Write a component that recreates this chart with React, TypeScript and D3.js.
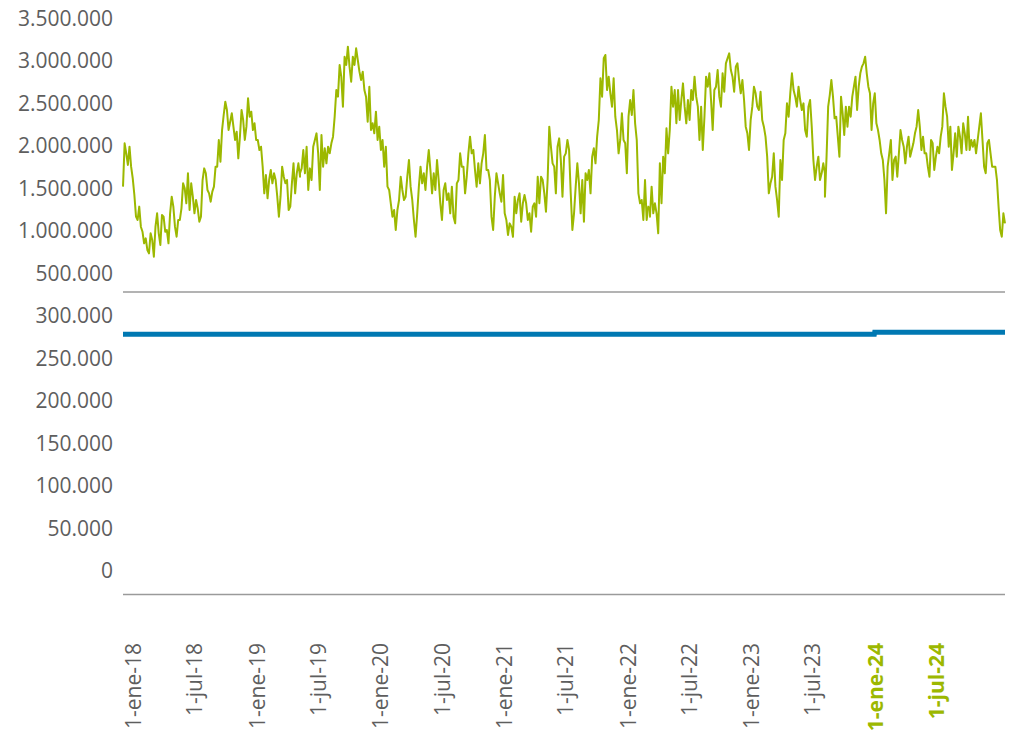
import React from "react";
import * as d3 from "d3";

// ---- Data (green series in thousands) ----
const seg1Dates = ["2017-12-02", "2019-05-09"];
const seg1 = [1510, 2020, 1902, 1765, 1980, 1745, 1608, 1412, 1157, 1118, 1275, 1039, 980, 843, 902, 765, 725, 961, 882, 686, 1039, 1196, 961, 824, 1176, 1157, 980, 1000, 843, 1196, 1392, 1275, 1039, 921, 1118, 1118, 1255, 1549, 1490, 1314, 1667, 1235, 1549, 1392, 1196, 1353, 1255, 1098, 1157, 1588, 1725, 1667, 1471, 1431, 1333, 1451, 1510, 1745, 1745, 2059, 1804, 2176, 2353, 2510, 2412, 2176, 2274, 2373, 2216, 2059, 2157, 1843, 2098, 2412, 2294, 2059, 2216, 2549, 2333, 2392, 2176, 2255, 2059, 2059, 1941, 1980, 1745, 1431, 1647, 1373, 1588, 1706, 1549, 1667, 1588, 1392, 1157, 1392, 1745, 1627, 1549, 1588, 1235, 1275, 1549, 1784, 1431, 1667, 1784, 1627];

const seg2Dates = ["2019-05-09", "2020-10-07"];
const seg2 = [1667, 1725, 1941, 1667, 1980, 1471, 1725, 1588, 1980, 2059, 2137, 1902, 1471, 2118, 1745, 1961, 1784, 1980, 1902, 2020, 2098, 2333, 2647, 2569, 2941, 2804, 2451, 3039, 2941, 3157, 2922, 2745, 3039, 2941, 3137, 3000, 2863, 2765, 2863, 2647, 2569, 2274, 2686, 2176, 2255, 2137, 2392, 2059, 2216, 1941, 2059, 1745, 1980, 1510, 1471, 1314, 1157, 1235, 1000, 1235, 1353, 1627, 1471, 1353, 1392, 1627, 1824, 1510, 1353, 1118, 921, 1196, 1510, 1745, 1549, 1667, 1471, 1745, 1941, 1706, 1431, 1667, 1471, 1824, 1588, 1314, 1118, 1471, 1549, 1353, 1431, 1196, 1510, 1157, 1078, 1549, 1588, 1902, 1745, 1745, 1431, 1627, 1902, 2098, 1902, 1941, 1706];

const seg3Dates = ["2020-10-07", "2022-03-08"];
const seg3 = [1706, 1510, 1784, 1549, 1784, 1902, 2118, 1706, 1706, 1588, 1157, 1000, 1392, 1667, 1549, 1431, 1333, 1647, 1196, 1118, 941, 1078, 1039, 921, 1392, 1196, 1353, 1431, 1098, 1314, 1412, 1314, 1118, 1196, 980, 1275, 1314, 1157, 1627, 1314, 1627, 1588, 1431, 1216, 1588, 2216, 1980, 1784, 1745, 1431, 1980, 2078, 1824, 1392, 1863, 1902, 2059, 1941, 1431, 1000, 1196, 1510, 1784, 1549, 1196, 1588, 1098, 1667, 1588, 1706, 1431, 1863, 1961, 1784, 2098, 2294, 2784, 2569, 3020, 3059, 2647, 2804, 2608, 2451, 2784, 2333, 2176, 1902, 2059, 2373, 2059, 2020, 1667, 2333, 2529, 2353, 2647, 2255, 2059, 1431, 1314, 1353, 1118, 1588, 1118, 1275, 1235];

const seg4Dates = ["2022-03-08", "2023-08-07"];
const seg4 = [1157, 1510, 1196, 1314, 1196, 961, 1784, 1314, 1863, 1667, 2196, 1902, 2176, 2686, 2451, 2647, 2255, 2647, 2294, 2529, 2725, 2451, 2255, 2529, 2294, 2647, 2529, 2804, 2569, 2451, 2059, 2451, 1941, 2333, 2804, 2686, 2843, 2529, 2176, 2647, 2686, 2882, 2569, 2451, 2843, 2627, 2961, 3020, 3078, 2882, 2804, 2627, 2922, 2961, 2765, 2608, 2765, 2529, 2216, 2137, 1941, 2294, 2451, 2686, 2608, 2451, 2412, 2627, 2294, 2216, 2098, 1863, 1431, 1549, 1627, 1902, 1510, 1353, 1157, 1824, 1588, 2059, 2137, 2490, 2333, 2608, 2843, 2647, 2569, 2451, 2686, 2529, 2412, 2490, 2176, 2098, 2451, 2529, 2216, 1824, 1588, 1745, 1863, 1588, 1667, 1784, 1667];

const seg5Dates = ["2023-08-07", "2025-01-20"];
const seg5 = [1392, 1863, 2451, 2588, 2765, 2569, 2314, 2333, 2098, 1863, 2569, 2373, 2118, 2451, 2216, 2451, 2333, 2569, 2686, 2804, 2412, 2686, 2843, 2922, 2961, 3039, 2843, 2686, 2608, 2176, 2490, 2608, 2255, 2176, 2059, 1902, 1824, 1588, 1196, 1745, 1902, 2059, 1588, 1824, 1863, 1627, 1902, 2176, 2059, 1980, 1784, 1980, 2098, 1863, 1941, 2020, 2137, 2216, 2412, 2216, 1941, 2098, 1902, 1902, 1745, 1627, 2059, 2020, 1706, 1863, 1980, 1902, 2098, 2216, 2608, 2451, 2333, 1980, 2216, 1706, 1902, 2137, 1863, 2216, 2098, 1902, 2255, 2137, 1941, 2333, 1941, 2059, 1980, 2059, 1902, 2059, 2216, 2373, 2059, 1745, 1667, 2020, 2059, 1902, 1745, 1745, 1745, 1588, 1275, 1000, 921, 1196, 1078];

// Blue series (step)
const blueDates = ["2017-12-02", "2023-12-31", "2024-01-01", "2025-01-20"];
const blueValues = [277500, 277500, 279800, 279800];

// Ticks
const topTicks = [500000, 1000000, 1500000, 2000000, 2500000, 3000000, 3500000];
const bottomTicks = [0, 50000, 100000, 150000, 200000, 250000, 300000];
const xTickDates = ["2018-01-01", "2018-07-01", "2019-01-01", "2019-07-01", "2020-01-01", "2020-07-01", "2021-01-01", "2021-07-01", "2022-01-01", "2022-07-01", "2023-01-01", "2023-07-01", "2024-01-01", "2024-07-01"];
const xTickLabels = ["1-ene-18", "1-jul-18", "1-ene-19", "1-jul-19", "1-ene-20", "1-jul-20", "1-ene-21", "1-jul-21", "1-ene-22", "1-jul-22", "1-ene-23", "1-jul-23", "1-ene-24", "1-jul-24"];
const highlightedLabels = ["1-ene-24", "1-jul-24"];

const parse = d3.timeParse("%Y-%m-%d");
const GREEN = "#9cb800";
const BLUE = "#0078b2";
const GREY_TEXT = "#5e5e5e";
const AXIS = "#9a9a9a";
const FONT = "'Open Sans', 'Noto Sans', sans-serif";

function buildSeg(dates: string[], vals: number[]) {
  const s = parse(dates[0])!.getTime();
  const e = parse(dates[1])!.getTime();
  const n = vals.length;
  return vals.map((v, i) => ({ date: new Date(s + ((e - s) * i) / (n - 1)), value: v * 1000 }));
}

export default function App() {
  const green = [
    ...buildSeg(seg1Dates, seg1),
    ...buildSeg(seg2Dates, seg2),
    ...buildSeg(seg3Dates, seg3),
    ...buildSeg(seg4Dates, seg4),
    ...buildSeg(seg5Dates, seg5),
  ];
  const blue = blueDates.map((d, i) => ({ date: parse(d)!, value: blueValues[i] }));

  const left = 123;
  const right = 1005;
  const x = d3.scaleTime().domain([parse("2017-12-02")!, parse("2025-01-20")!]).range([left, right]);
  const yTop = d3.scaleLinear().domain([500000, 3500000]).range([272.5, 17.5]);
  const yBot = d3.scaleLinear().domain([0, 300000]).range([570, 315]);

  const fmtNum = (v: number) => d3.format(",")(v).replace(/,/g, ".");

  const greenLine = d3.line<any>().x((d) => x(d.date)).y((d) => yTop(d.value))(green) || "";
  const blueLine = d3.line<any>().x((d) => x(d.date)).y((d) => yBot(d.value))(blue) || "";

  return (
    <svg width={1013} height={737} style={{ position: "absolute", left: 0, top: 0, background: "#fff" }} fontFamily={FONT}>
      {topTicks.map((t) => (
        <text key={"t" + t} x={113} y={yTop(t)} textAnchor="end" dominantBaseline="central" fontSize={21} fill={GREY_TEXT}>
          {fmtNum(t)}
        </text>
      ))}
      {bottomTicks.map((t) => (
        <text key={"b" + t} x={113} y={yBot(t)} textAnchor="end" dominantBaseline="central" fontSize={21} fill={GREY_TEXT}>
          {fmtNum(t)}
        </text>
      ))}
      <line x1={left} x2={right} y1={292} y2={292} stroke={AXIS} strokeWidth={1.5} />
      <line x1={left} x2={right} y1={594.5} y2={594.5} stroke={AXIS} strokeWidth={1.5} />
      <path d={greenLine} fill="none" stroke={GREEN} strokeWidth={2} strokeLinejoin="round" />
      <path d={blueLine} fill="none" stroke={BLUE} strokeWidth={5} />
      {xTickDates.map((d, i) => {
        const xp = x(parse(d)!);
        const hl = highlightedLabels.includes(xTickLabels[i]);
        return (
          <text
            key={d}
            transform={`translate(${xp},643) rotate(-90)`}
            textAnchor="end"
            dominantBaseline="central"
            fontSize={21}
            fontWeight={hl ? 700 : 400}
            fill={hl ? GREEN : GREY_TEXT}
          >
            {xTickLabels[i]}
          </text>
        );
      })}
    </svg>
  );
}
